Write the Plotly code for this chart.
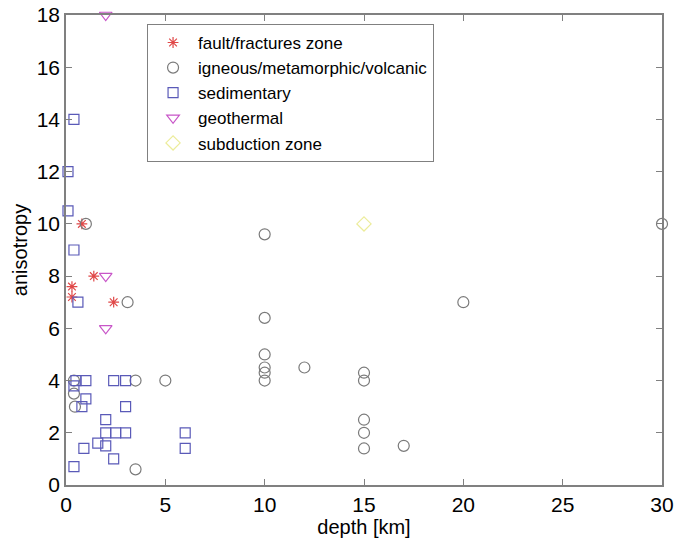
import plotly.graph_objects as go

# Anisotropy vs depth, grouped by geological setting
fault_depth = [0.8, 1.4, 0.3, 0.3, 2.4]
fault_aniso = [10, 8, 7.6, 7.2, 7]

igneous_depth = [1, 3.1, 0.4, 3.5, 5, 0.4, 0.45, 3.5,
                 10, 10, 10, 10, 10, 10, 12,
                 15, 15, 15, 15, 15, 17, 20, 30]
igneous_aniso = [10, 7, 4, 4, 4, 3.5, 3, 0.6,
                 9.6, 6.4, 5, 4.5, 4.3, 4, 4.5,
                 4.3, 4, 2.5, 2, 1.4, 1.5, 7, 10]

sed_depth = [0.4, 0.1, 0.1, 0.4, 0.6, 0.5, 1, 2.4, 3, 0.4, 1, 0.8, 3,
             2, 2, 2.5, 3, 6, 0.9, 1.6, 2, 6, 2.4, 0.4]
sed_aniso = [14, 12, 10.5, 9, 7, 4, 4, 4, 4, 3.8, 3.3, 3, 3,
             2.5, 2, 2, 2, 2, 1.4, 1.6, 1.5, 1.4, 1, 0.7]

geo_depth = [2, 2, 2]
geo_aniso = [18, 8, 6]

sub_depth = [15]
sub_aniso = [10]

x_ticks = [0, 5, 10, 15, 20, 25, 30]
y_ticks = [0, 2, 4, 6, 8, 10, 12, 14, 16, 18]

series = [
    ("fault/fractures zone", fault_depth, fault_aniso, "asterisk-open", "#e04848", 9),
    ("igneous/metamorphic/volcanic", igneous_depth, igneous_aniso, "circle-open", "#7a7a7a", 11),
    ("sedimentary", sed_depth, sed_aniso, "square-open", "#5a5ab8", 10),
    ("geothermal", geo_depth, geo_aniso, "triangle-down-open", "#c855c8", 11),
    ("subduction zone", sub_depth, sub_aniso, "diamond-open", "#ecec9a", 11),
]

FONT = "Liberation Sans, Arial, sans-serif"

fig = go.Figure()
for name, xs, ys, sym, col, sz in series:
    fig.add_trace(go.Scatter(
        x=xs, y=ys, mode="markers", name=name, cliponaxis=False,
        marker=dict(symbol=sym, size=sz, color=col, line=dict(color=col, width=1.2)),
    ))

axis_common = dict(
    showline=True, linecolor="#808080", linewidth=1.5, mirror="ticks",
    ticks="inside", ticklen=6, tickcolor="#808080", tickwidth=1,
    showgrid=False, zeroline=False, automargin=False,
    tickfont=dict(family=FONT, size=21, color="black"),
)

fig.update_xaxes(range=[0, 30], tickvals=x_ticks,
                 title=dict(text="depth [km]", standoff=2,
                            font=dict(family=FONT, size=20, color="black")),
                 **axis_common)
fig.update_yaxes(range=[0, 18], tickvals=y_ticks,
                 title=dict(text="anisotropy", standoff=4,
                            font=dict(family=FONT, size=20, color="black")),
                 **axis_common)

fig.update_layout(
    width=675, height=541,
    margin=dict(l=66, r=13, t=15, b=56),
    paper_bgcolor="white", plot_bgcolor="white",
    showlegend=True,
    legend=dict(
        x=0.136, y=0.981, xanchor="left", yanchor="top",
        bordercolor="#808080", borderwidth=1, bgcolor="white",
        font=dict(family=FONT, size=17, color="black"),
        itemwidth=40, tracegroupgap=0,
    ),
)

fig.write_html("out.html")
